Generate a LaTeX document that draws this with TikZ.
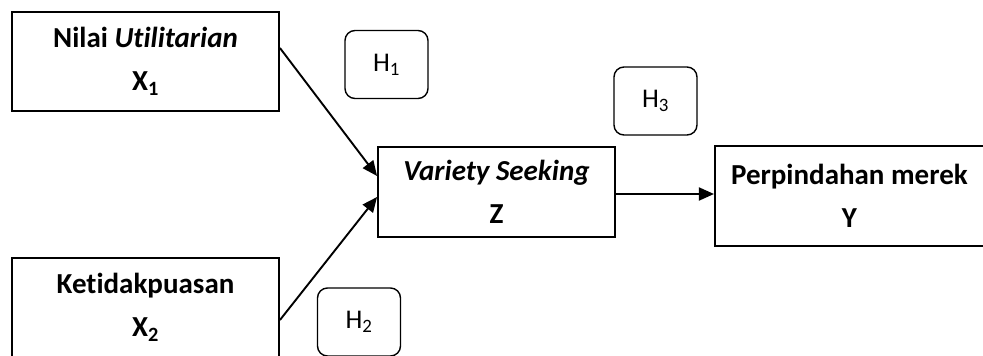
\documentclass[tikz,border=0pt]{standalone}
\usepackage{fontspec}
\setmainfont{Carlito}[Ligatures=NoCommon]
\usetikzlibrary{positioning}
\usetikzlibrary{arrows.meta}
\tikzset{varbox/.style={ % Boxes for the variables
draw,
line width=1.9pt,
align=center,
inner sep=0pt,
font=\fontsize{29}{43}\selectfont\bfseries},
hypbox/.style={ % Rounded boxes for the hypotheses
draw,
rounded corners=10pt,
line width=1.4pt,
minimum width=83pt,
minimum height=68pt,
font=\fontsize{27}{30}\selectfont},
every edge/.style={ % Sets the properties for each path
draw,
-{Triangle[length=15pt,width=13pt]},
line width=1.9pt}}

\begin{document}
\begin{tikzpicture}[x=1pt,y=-1pt]
  \useasboundingbox (0,0) rectangle (983,356);
  \node[varbox,minimum width=267pt,minimum height=99pt] (x1) at (145.5,61.5)
       {Nilai \textit{Utilitarian}\\X\textsubscript{1}};
  \node[varbox,minimum width=267pt,minimum height=99pt] (x2) at (145.5,307.5)
       {Ketidakpuasan\\X\textsubscript{2}};
  \node[varbox,minimum width=237pt,minimum height=90pt] (z)  at (496.5,192)
       {\textit{Variety Seeking}\\Z};
  \node[varbox,minimum width=269pt,minimum height=100pt] (y) [right=98pt of z,yshift=-4pt]
       {Perpindahan merek\\Y};
  \node[hypbox] (h1) at (386.5,64.5) {H\textsubscript{1}};
  \node[hypbox] (h2) at (359,322)   {H\textsubscript{2}};
  \node[hypbox] (h3) at (655.5,101) {H\textsubscript{3}};
  \path ([yshift=13.5pt]x1.east)  edge ([yshift=16pt]z.west)
        ([yshift=-12.5pt]x2.east) edge ([yshift=-5pt]z.west)
        ([yshift=-2pt]z.east)     edge ([yshift=-2pt]z.east -| y.west);
\end{tikzpicture}
\end{document}
